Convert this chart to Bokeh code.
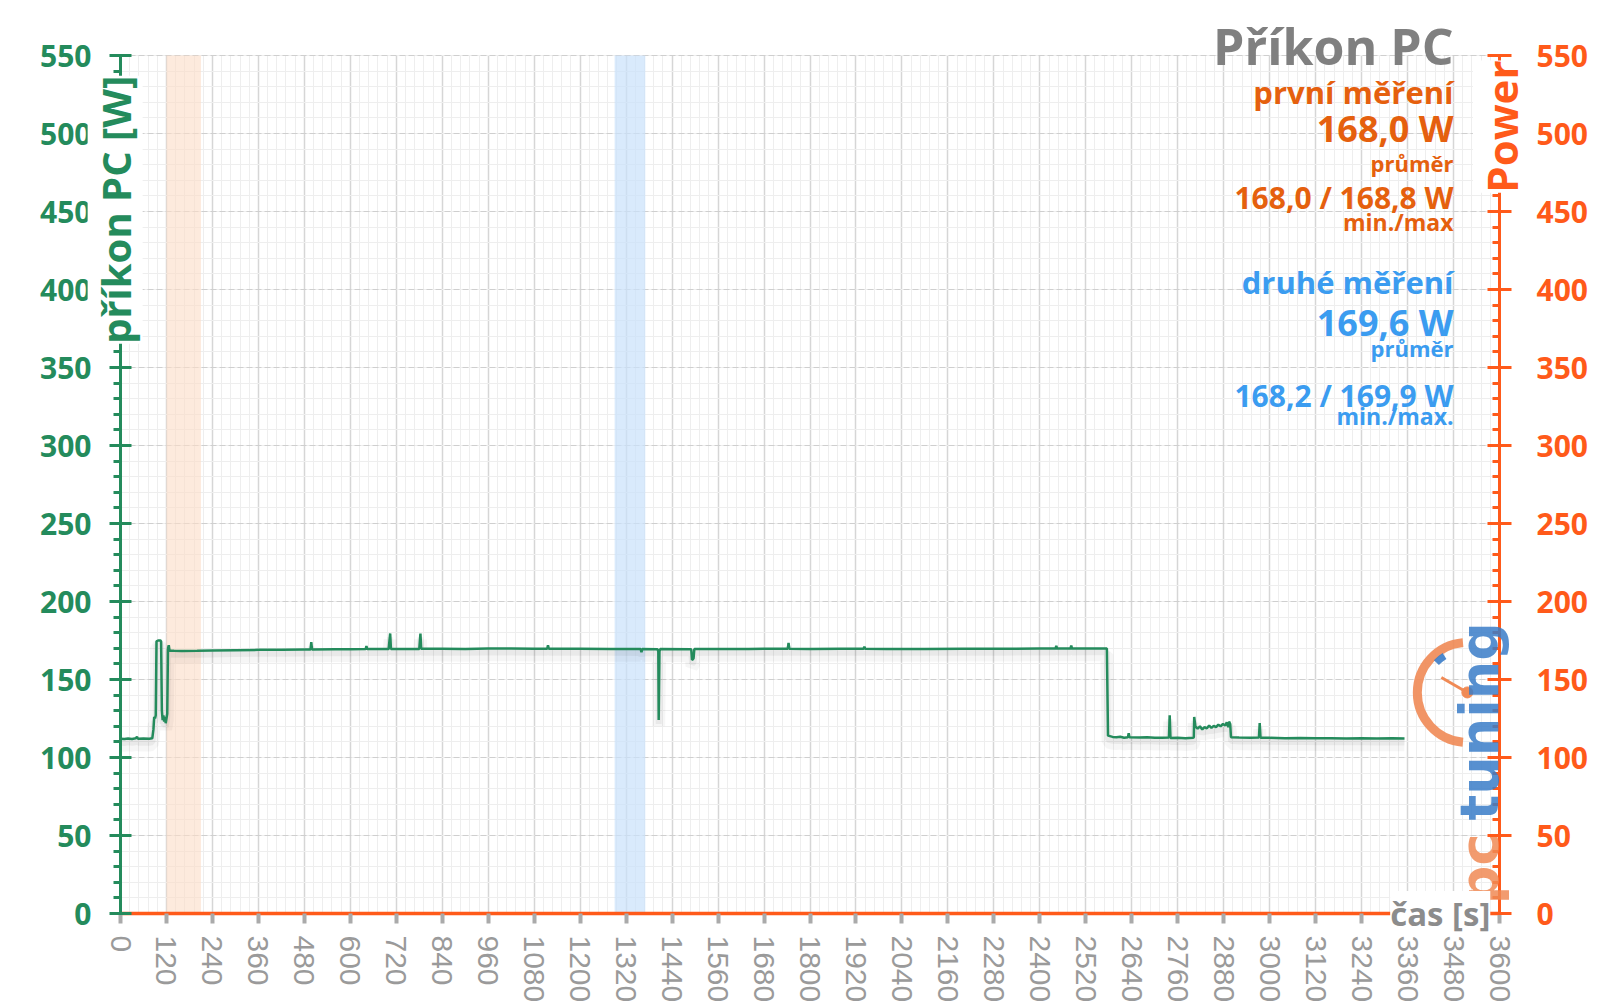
import math
from bokeh.plotting import figure
from bokeh.models import (Range1d, LinearAxis, SingleIntervalTicker, Label,
                          BoxAnnotation, ColumnDataSource, Grid)
from bokeh.transform import dodge
from bokeh.embed import file_html
from bokeh.resources import INLINE

# ---------------- data ----------------
t_s = [0, 10, 20, 30, 40, 43, 46, 60, 75, 83, 86, 88, 90, 92, 94, 98, 104, 106, 108, 110,
       112, 114, 116, 118, 120, 122, 124, 126, 128, 140, 160, 200, 240, 300, 360, 420, 480,
       496, 498, 500, 560, 600, 640, 642, 644, 700, 704, 706, 780, 783, 785, 840, 900, 960,
       1020, 1080, 1114, 1116, 1118, 1200, 1280, 1358, 1360, 1362, 1402, 1404, 1405, 1407,
       1409, 1490, 1492, 1496, 1498, 1560, 1640, 1700, 1742, 1744, 1746, 1800, 1880, 1940,
       1942, 1944, 2000, 2100, 2200, 2300, 2400, 2441, 2443, 2445, 2480, 2482, 2484, 2540,
       2575, 2578, 2590, 2600, 2610, 2620, 2630, 2632, 2634, 2660, 2680, 2700, 2720, 2737,
       2739, 2741, 2760, 2780, 2800, 2802, 2803, 2806, 2812, 2818, 2824, 2830, 2836, 2842,
       2848, 2854, 2860, 2866, 2872, 2878, 2884, 2888, 2892, 2894, 2897, 2899, 2920, 2950,
       2972, 2974, 2976, 3000, 3040, 3080, 3120, 3160, 3200, 3240, 3280, 3320, 3352]
pc_w = [112.0, 111.8, 112.2, 111.9, 112.3, 113.2, 112.0, 112.1, 112.0, 112.3, 118.0, 126.0,
        125.0, 127.0, 174.5, 175.0, 175.0, 174.5, 130.0, 124.0, 127.0, 123.0, 126.0, 122.0,
        125.0, 128.0, 170.0, 172.0, 168.5, 168.4, 168.3, 168.4, 168.6, 168.8, 169.0, 169.0,
        169.2, 169.2, 174.0, 169.3, 169.4, 169.4, 169.5, 171.5, 169.5, 169.5, 179.5, 169.6,
        169.6, 179.5, 169.7, 169.7, 169.6, 169.8, 169.8, 169.7, 169.7, 172.0, 169.7, 169.7,
        169.6, 169.5, 167.5, 169.5, 169.4, 168.0, 124.0, 168.0, 169.5, 169.4, 162.5, 163.5,
        169.5, 169.6, 169.6, 169.7, 169.7, 173.5, 169.7, 169.6, 169.7, 169.7, 171.0, 169.7,
        169.6, 169.6, 169.7, 169.7, 169.8, 169.8, 171.5, 169.8, 169.8, 171.8, 169.8, 169.9,
        169.9, 114.0, 113.2, 113.0, 113.3, 112.7, 113.0, 115.5, 113.0, 112.8, 113.0, 112.7,
        112.6, 112.8, 127.0, 112.5, 112.6, 112.3, 112.6, 113.0, 126.0, 120.0, 118.5, 120.0,
        118.0, 119.5, 118.7, 120.5, 119.0, 120.3, 119.5, 121.0, 120.0, 121.5, 120.5, 122.5,
        119.5, 123.0, 121.5, 113.0, 112.8, 112.7, 112.8, 122.0, 112.7, 112.6, 112.4, 112.5,
        112.3, 112.4, 112.2, 112.3, 112.1, 112.3, 112.1]

power_t = [0, 3600]
power_w = [0, 0]

band1 = (120, 210)     # first measurement window [s]
band2 = (1290, 1370)   # second measurement window [s]

X_MAX = 3600
Y_MAX = 550
title = "Příkon PC"
first_lines = ["první měření", "168,0 W", "průměr", "168,0 / 168,8 W", "min./max"]
second_lines = ["druhé měření", "169,6 W", "průměr", "168,2 / 169,9 W", "min./max."]

# ---------------- layout ----------------
W, H = 1600, 1008
PX_L, PX_R = 120, 1499      # pixel columns of t=0 and t=3600
PX_B, PX_T = 913, 55        # pixel rows of 0 W and 550 W
kx = (PX_R - PX_L) / X_MAX
ky = (PX_B - PX_T) / Y_MAX
x0 = -PX_L / kx
x1 = (W - PX_L) / kx
y0 = -(H - PX_B) / ky
y1 = PX_B / ky

GREEN = "#248b5c"
ORANGE = "#ff5a1a"
ORANGE_TXT = "#e5600e"
BLUE_TXT = "#3b9cf0"
GRAY = "#808080"
FONT = "Open Sans"

p = figure(frame_width=W, frame_height=H, x_range=Range1d(x0, x1),
           y_range=Range1d(y0, y1), output_backend="svg", toolbar_location=None,
           min_border=0, background_fill_color="white")
p.outline_line_color = None
p.extra_y_ranges = {"power": Range1d(y0, y1)}

xt = SingleIntervalTicker(interval=120, num_minor_ticks=5)
yt = SingleIntervalTicker(interval=50, num_minor_ticks=5)

# grids
p.xgrid.ticker = xt
p.ygrid.ticker = yt
p.xgrid.bounds = (0, X_MAX)
p.ygrid.bounds = (0, Y_MAX)
has_cb = "cross_bounds" in Grid.properties()
if has_cb:
    p.xgrid.cross_bounds = (0, Y_MAX)
    p.ygrid.cross_bounds = (0, X_MAX)
    p.xgrid.grid_line_color = "#d6d6d6"
    p.xgrid.grid_line_width = 1.5
    p.xgrid.minor_grid_line_color = "#eeeeee"
    p.ygrid.grid_line_color = "#cfcfcf"
    p.ygrid.grid_line_dash = "6 3"
    p.ygrid.grid_line_width = 1.2
    p.ygrid.minor_grid_line_color = "#eeeeee"
else:
    p.xgrid.visible = False
    p.ygrid.visible = False
    xs_minor = [v for v in range(0, X_MAX + 1, 24) if v % 120]
    xs_major = list(range(0, X_MAX + 1, 120))
    ys_minor = [v for v in range(0, Y_MAX + 1, 10) if v % 50]
    ys_major = list(range(0, Y_MAX + 1, 50))
    p.segment(x0=xs_minor, x1=xs_minor, y0=0, y1=Y_MAX, line_color="#eeeeee", line_width=1,
              level="underlay")
    p.segment(x0=0, x1=X_MAX, y0=ys_minor, y1=ys_minor, line_color="#eeeeee", line_width=1,
              level="underlay")
    p.segment(x0=xs_major, x1=xs_major, y0=0, y1=Y_MAX, line_color="#d6d6d6",
              line_width=1.5, level="underlay")
    p.segment(x0=0, x1=X_MAX, y0=ys_major, y1=ys_major, line_color="#cfcfcf",
              line_width=1.2, line_dash="6 3", level="underlay")

# bottom axis
xa = p.xaxis[0]
xa.ticker = xt
xa.fixed_location = 0
xa.bounds = (0, X_MAX)
xa.axis_line_color = None
xa.major_tick_line_color = "#aaaaaa"
xa.major_tick_line_width = 4
xa.major_tick_in = 0
xa.major_tick_out = 10
xa.minor_tick_line_color = None
xa.major_label_orientation = "vertical"
xa.major_label_text_color = "#9a9a9a"
xa.major_label_text_font = "Liberation Sans"
xa.major_label_text_font_size = "30px"
xa.major_label_standoff = 12

# left axis
ya = p.yaxis[0]
ya.ticker = yt
ya.fixed_location = 0
ya.bounds = (0, Y_MAX)
ya.axis_line_color = GREEN
ya.axis_line_width = 3
ya.major_tick_line_color = GREEN
ya.major_tick_line_width = 3
ya.major_tick_in = 11
ya.major_tick_out = 11
ya.minor_tick_line_color = GREEN
ya.minor_tick_line_width = 3
ya.minor_tick_in = 0
ya.minor_tick_out = 7
ya.major_label_text_color = GREEN
ya.major_label_text_font = FONT
ya.major_label_text_font_style = "bold"
ya.major_label_text_font_size = "30px"
ya.major_label_standoff = 18

# right axis
ra = LinearAxis(y_range_name="power", fixed_location=X_MAX, bounds=(0, Y_MAX),
                ticker=SingleIntervalTicker(interval=50, num_minor_ticks=5))
ra.axis_line_color = ORANGE
ra.axis_line_width = 3
ra.major_tick_line_color = ORANGE
ra.major_tick_line_width = 3
ra.major_tick_in = 12
ra.major_tick_out = 12
ra.minor_tick_line_color = ORANGE
ra.minor_tick_line_width = 3
ra.minor_tick_in = 7
ra.minor_tick_out = 0
ra.major_label_text_color = ORANGE
ra.major_label_text_font = FONT
ra.major_label_text_font_style = "bold"
ra.major_label_text_font_size = "30px"
ra.major_label_standoff = 25
p.add_layout(ra, "right")

# measurement bands
p.add_layout(BoxAnnotation(left=band1[0], right=band1[1], bottom=0, top=Y_MAX,
                           fill_color="#fbdcc6", fill_alpha=0.6, line_color=None,
                           level="underlay"))
p.add_layout(BoxAnnotation(left=band2[0], right=band2[1], bottom=0, top=Y_MAX,
                           fill_color="#c9e1fb", fill_alpha=0.7, line_color=None,
                           level="underlay"))

# series
src = ColumnDataSource(dict(t=t_s, w=pc_w))
p.line(x="t", y=dodge("w", -4.0), source=src, line_color="#000000", line_alpha=0.035,
       line_width=13)
p.line(x="t", y=dodge("w", -2.5), source=src, line_color="#000000", line_alpha=0.05,
       line_width=6)
p.line(x="t", y="w", source=src, line_color=GREEN, line_width=2.5)
p.line(x=power_t, y=power_w, y_range_name="power", line_color=ORANGE, line_width=3.5)

# watermark logo (pctuning)
LOGO_O = "#f08a55"
LOGO_B = "#3a7cc8"
LX, LY = 3516, 141.7
p.arc(x=[LX], y=[LY], radius=50, radius_units="screen",
      start_angle=math.radians(95), end_angle=math.radians(265),
      line_color=LOGO_O, line_width=9, line_alpha=0.9)
p.arc(x=[LX], y=[LY], radius=43, radius_units="screen",
      start_angle=math.radians(122), end_angle=math.radians(136),
      line_color=LOGO_B, line_width=7, line_alpha=0.9)
p.ray(x=[LX], y=[LY], length=30, length_units="screen", angle=math.radians(150),
      line_color=LOGO_O, line_width=3)
p.scatter(x=[LX], y=[LY], size=11, color=LOGO_O)
p.add_layout(Label(x=3548, y=59.6, text="tuning", angle=math.pi / 2, text_align="left",
                   text_baseline="middle", text_font="DejaVu Sans",
                   text_font_style="bold", text_font_size="54px", text_color=LOGO_B,
                   text_alpha=0.85))
p.add_layout(Label(x=3548, y=6.0, text="pc", angle=math.pi / 2, text_align="left",
                   text_baseline="middle", text_font="DejaVu Sans",
                   text_font_style="bold", text_font_size="54px", text_color=LOGO_O,
                   text_alpha=0.85))

# axis titles
p.add_layout(Label(x=-14, y=537, text="příkon PC [W]", angle=math.pi / 2,
                   text_align="right", text_baseline="middle", text_font=FONT,
                   text_font_style="bold", text_font_size="40px", text_color=GREEN,
                   background_fill_color="white"))
p.add_layout(Label(x=3605, y=546.8, text="Power", angle=math.pi / 2,
                   text_align="right", text_baseline="middle", text_font=FONT,
                   text_font_style="bold", text_font_size="42px", text_color=ORANGE,
                   background_fill_color="white"))
p.add_layout(Label(x=3576, y=0, text="čas [s]", text_align="right",
                   text_baseline="middle", text_font=FONT, text_font_style="bold",
                   text_font_size="33px", text_color="#8c8c8c",
                   background_fill_color="white"))

# title and statistics
RX = 3480
p.add_layout(Label(x=RX, y=556, text=title, text_align="right", text_baseline="middle",
                   text_font=FONT, text_font_style="bold", text_font_size="50px",
                   text_color=GRAY))
sizes = ["31px", "36px", "22px", "30px", "23px"]
y1s = [526.3, 503.2, 481.4, 459.0, 443.0]
y2s = [404.5, 378.8, 362.2, 332.0, 319.2]
for txt, yy, fs in zip(first_lines, y1s, sizes):
    p.add_layout(Label(x=RX, y=yy, text=txt, text_align="right", text_baseline="middle",
                       text_font=FONT, text_font_style="bold", text_font_size=fs,
                       text_color=ORANGE_TXT))
for txt, yy, fs in zip(second_lines, y2s, sizes):
    p.add_layout(Label(x=RX, y=yy, text=txt, text_align="right", text_baseline="middle",
                       text_font=FONT, text_font_style="bold", text_font_size=fs,
                       text_color=BLUE_TXT))

open("out.html", "w").write(file_html(p, INLINE))
